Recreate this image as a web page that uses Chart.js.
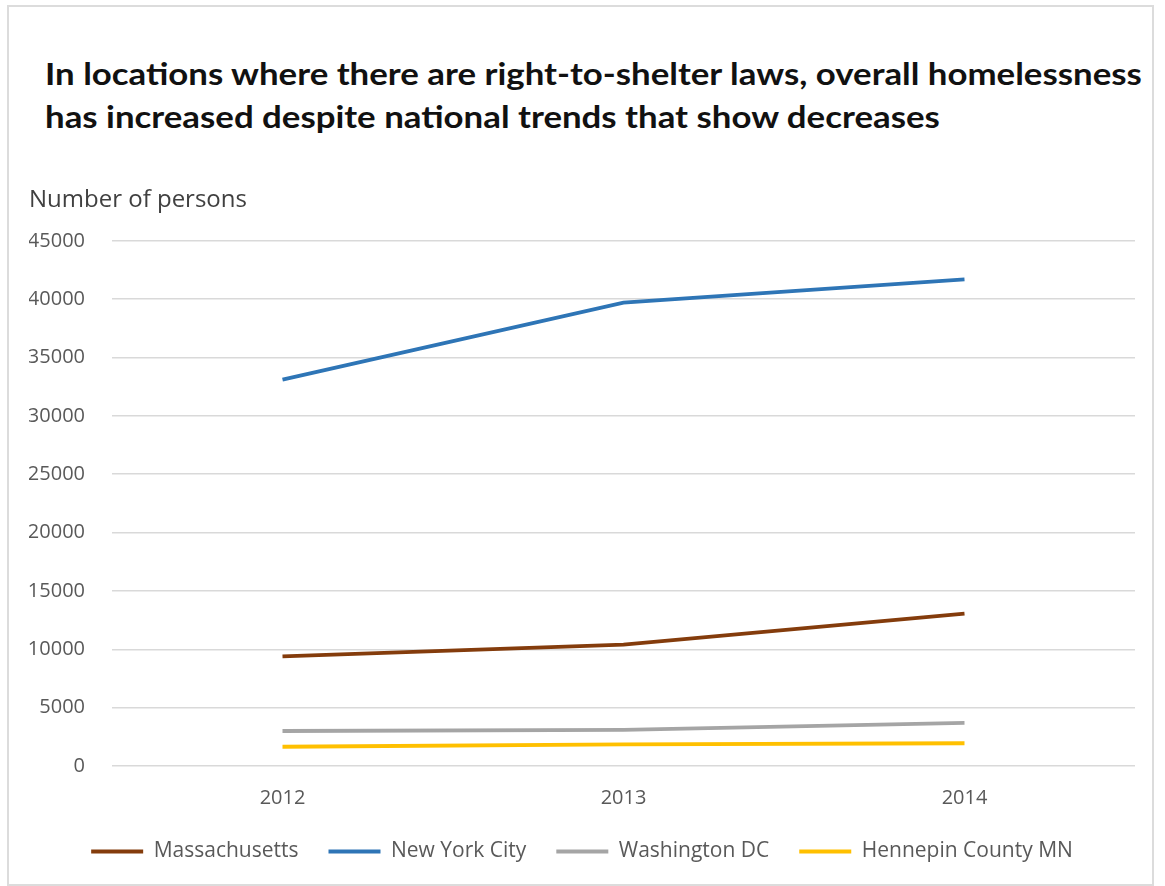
<!DOCTYPE html>
<html>
<head>
<meta charset="utf-8">
<script src="https://cdn.jsdelivr.net/npm/chart.js@4/dist/chart.umd.min.js"></script>
<style>
  body { margin: 0; background: #fff; width: 1165px; height: 886px; overflow: hidden; }
  #frame {
    position: absolute; left: 7px; top: 5px; width: 1143px; height: 877px;
    border: 2px solid #dcdcdc; background: #fff;
  }
  #title {
    position: absolute; left: 36px; top: 45px; white-space: nowrap;
    font-family: Lato, "Open Sans", sans-serif; font-weight: bold;
    font-size: 30px; line-height: 43px; color: #111;
    transform: scaleX(1.16); transform-origin: left top;
  }
  #wrap { position: absolute; left: 2px; top: 170px; width: 1141px; height: 724px; }
</style>
</head>
<body>
<div id="frame">
  <div id="title">In locations where there are right-to-shelter laws, overall homelessness<br>has increased despite national trends that show decreases</div>
  <div id="wrap"><canvas id="chart"></canvas></div>
</div>
<script>
// dados
const years = ["2012", "2013", "2014"];
const massachusetts = [9400, 10400, 13050];
const newYorkCity = [33100, 39700, 41700];
const washingtonDC = [3000, 3100, 3700];
const hennepin = [1650, 1850, 1950];

const tickColor = "#595959";
const gridColor = "#d9d9d9";
const fontFamily = "'Open Sans', sans-serif";

function serie(label, data, color) {
  return {
    label: label,
    data: data,
    borderColor: color,
    backgroundColor: color,
    borderWidth: 3.8,
    pointRadius: 0,
    tension: 0,
  };
}

// sobe a legenda um pouco (o padding dela vale nos dois sentidos)
const moveLegend = {
  id: "moveLegend",
  afterLayout(chart) {
    chart.legend.top -= 19;
    chart.legend.bottom -= 19;
  },
};

const ctx = document.getElementById("chart").getContext("2d");
new Chart(ctx, {
  type: "line",
  data: {
    labels: years,
    datasets: [
      serie("Massachusetts", massachusetts, "#843c0c"),
      serie("New York City", newYorkCity, "#2e75b6"),
      serie("Washington DC", washingtonDC, "#a5a5a5"),
      serie("Hennepin County MN", hennepin, "#ffc000"),
    ],
  },
  plugins: [moveLegend],
  options: {
    responsive: true,
    maintainAspectRatio: false,
    animation: false,
    layout: { padding: { left: 18, right: 17, top: 0, bottom: 10 } },
    plugins: {
      title: {
        display: true,
        text: "Number of persons",
        align: "start",
        color: "#404040",
        font: { family: fontFamily, size: 24, weight: "normal" },
        padding: { top: 9, bottom: 26 },
      },
      legend: {
        position: "bottom",
        labels: {
          usePointStyle: true,
          pointStyle: "line",
          pointStyleWidth: 52,
          color: tickColor,
          padding: 30,
          font: { family: fontFamily, size: 21 },
        },
      },
      tooltip: { enabled: false },
    },
    scales: {
      x: {
        offset: true,
        grid: { display: false, drawTicks: false },
        border: { display: false },
        ticks: {
          color: tickColor,
          padding: 20,
          font: { family: fontFamily, size: 20 },
        },
      },
      y: {
        min: 0,
        max: 45000,
        grid: { color: gridColor, lineWidth: 1.5, drawTicks: false },
        border: { display: false },
        ticks: {
          stepSize: 5000,
          color: tickColor,
          padding: 27,
          font: { family: fontFamily, size: 20 },
          callback: (v) => String(v),
        },
        afterFit: (scale) => {
          scale.width = 83;
        },
      },
    },
  },
});
</script>
</body>
</html>
